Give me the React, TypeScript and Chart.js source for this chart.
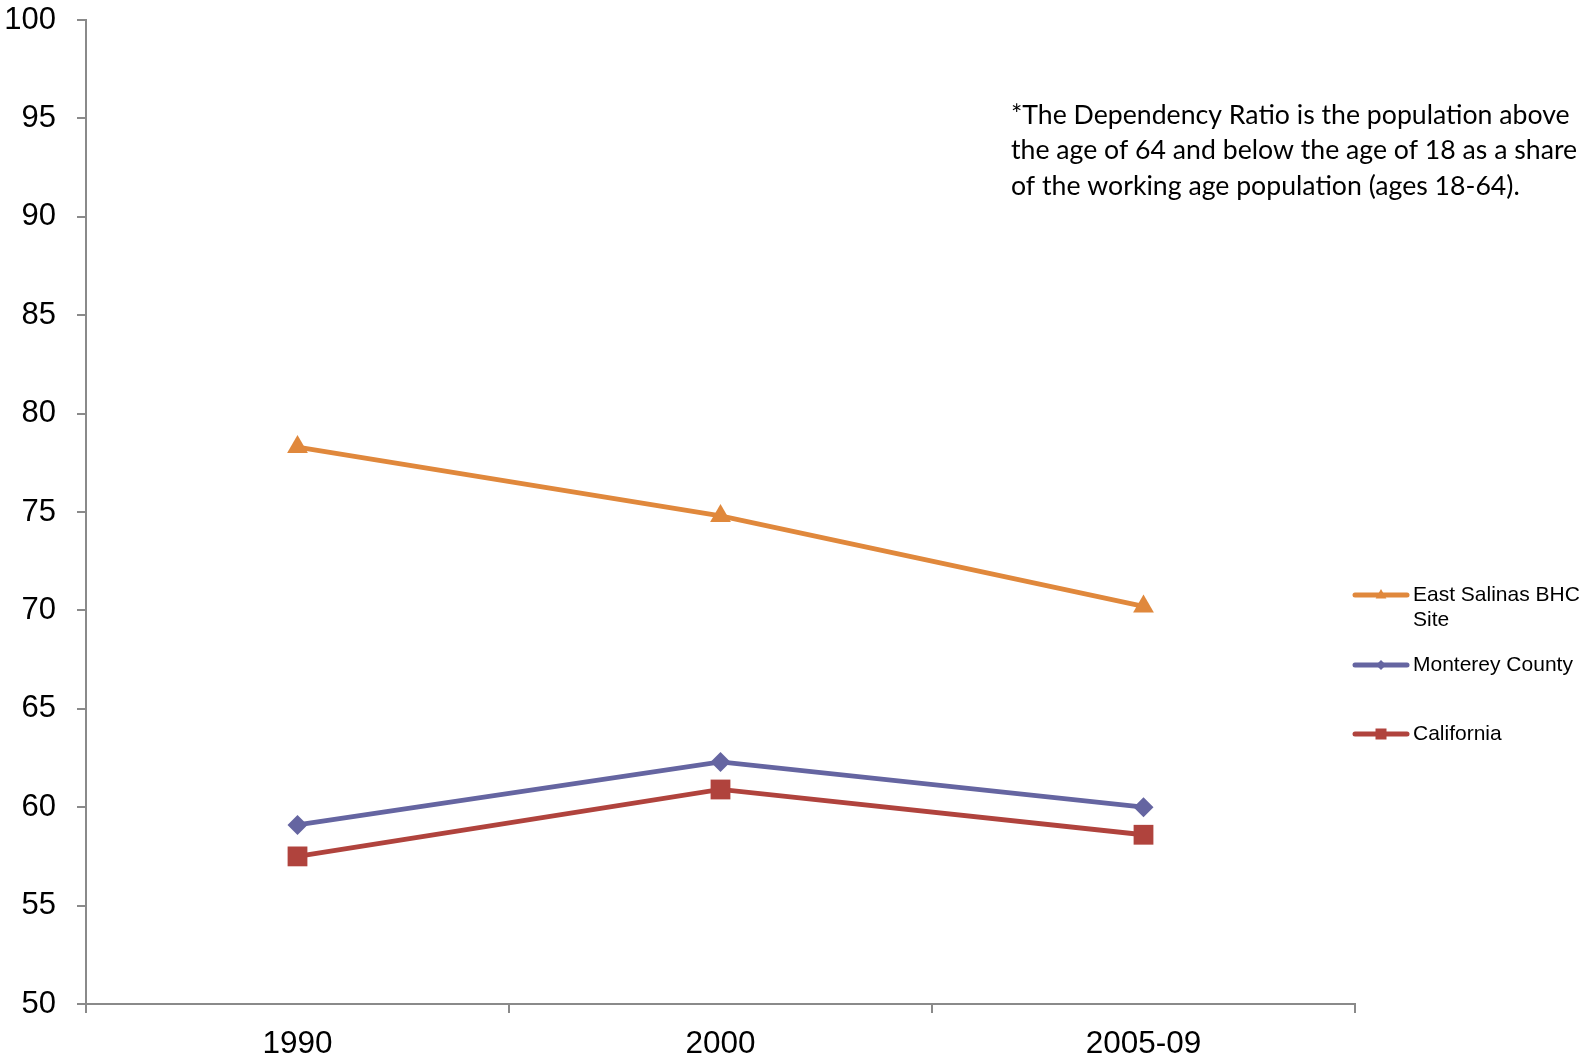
import React, { useEffect, useRef } from "react";
import { Chart, registerables } from "chart.js";

Chart.register(...registerables);

const categories = ["1990", "2000", "2005-09"];
const eastSalinas = [78.3, 74.8, 70.2];
const monterey = [59.1, 62.3, 60.0];
const california = [57.5, 60.9, 58.6];
const seriesNames = [["East Salinas BHC", "Site"], ["Monterey County"], ["California"]];
const noteLines = [
  "*The Dependency Ratio is the population above",
  "the age of 64 and below the age of 18 as a share",
  "of the working age population (ages 18-64).",
];
const yMin = 50;
const yMax = 100;
const yStep = 5;

const ORANGE = "#E0883C";
const PURPLE = "#6565A1";
const RED = "#B0433D";
const AXIS = "#8A8A8A";

function drawMarker(ctx: CanvasRenderingContext2D, style: string, x: number, y: number, r: number, color: string) {
  ctx.save();
  ctx.fillStyle = color;
  ctx.beginPath();
  if (style === "triangle") {
    ctx.moveTo(x, y - r);
    ctx.lineTo(x + r * 0.9, y + r * 0.6);
    ctx.lineTo(x - r * 0.9, y + r * 0.6);
    ctx.closePath();
  } else if (style === "rectRot") {
    ctx.moveTo(x, y - r);
    ctx.lineTo(x + r, y);
    ctx.lineTo(x, y + r);
    ctx.lineTo(x - r, y);
    ctx.closePath();
  } else {
    ctx.rect(x - r, y - r, 2 * r, 2 * r);
  }
  ctx.fill();
  ctx.restore();
}

const overlayPlugin = {
  id: "overlay",
  afterDraw(chart: any) {
    const ctx: CanvasRenderingContext2D = chart.ctx;
    // Legend
    const legendRows = [
      { y: 595, color: ORANGE, style: "triangle", r: 6, lines: seriesNames[0] },
      { y: 665, color: PURPLE, style: "rectRot", r: 5, lines: seriesNames[1] },
      { y: 734, color: RED, style: "rect", r: 5.5, lines: seriesNames[2] },
    ];
    ctx.save();
    for (const row of legendRows) {
      ctx.strokeStyle = row.color;
      ctx.lineWidth = 5;
      ctx.lineCap = "round";
      ctx.beginPath();
      ctx.moveTo(1355, row.y);
      ctx.lineTo(1407, row.y);
      ctx.stroke();
      drawMarker(ctx, row.style, 1381, row.y, row.r, row.color);
      ctx.fillStyle = "#000";
      ctx.font = "21px 'Liberation Sans', Arial, sans-serif";
      ctx.textAlign = "left";
      ctx.textBaseline = "middle";
      row.lines.forEach((t: string, i: number) => {
        ctx.fillText(t, 1413, row.y + i * 25);
      });
    }
    // Note
    let size = 26;
    ctx.font = `${size}px Lato, 'Open Sans', sans-serif`;
    const w2 = ctx.measureText(noteLines[1]).width;
    const w3 = ctx.measureText(noteLines[2]).width;
    size = size * ((575 / w2 + 517 / w3) / 2) * 0.985;
    ctx.font = `${size}px Lato, 'Open Sans', sans-serif`;
    ctx.fillStyle = "#000";
    ctx.textAlign = "left";
    ctx.textBaseline = "middle";
    noteLines.forEach((t, i) => {
      ctx.fillText(t, 1011, 115 + i * 35.5);
    });
    ctx.restore();
  },
};

export default function App() {
  const ref = useRef<HTMLCanvasElement | null>(null);
  useEffect(() => {
    if (!ref.current) return;
    const mk = (label: string, data: number[], color: string, style: string, r: number) => ({
      label,
      data,
      borderColor: color,
      backgroundColor: color,
      borderWidth: 4.8,
      pointStyle: style,
      pointRadius: r,
      pointHoverRadius: r,
      pointBorderWidth: 0,
      pointBackgroundColor: color,
      tension: 0,
    });
    const chart = new Chart(ref.current, {
      type: "line",
      data: {
        labels: categories,
        datasets: [
          mk("East Salinas BHC Site", eastSalinas, ORANGE, "triangle", 12),
          mk("Monterey County", monterey, PURPLE, "rectRot", 10),
          mk("California", california, RED, "rect", 14),
        ],
      },
      plugins: [overlayPlugin],
      options: {
        animation: false,
        responsive: false,
        maintainAspectRatio: false,
        layout: { padding: { top: 20, right: 234, bottom: 0, left: 0 } },
        plugins: { legend: { display: false }, tooltip: { enabled: false } },
        scales: {
          x: {
            type: "category",
            offset: true,
            grid: {
              offset: true,
              drawOnChartArea: false,
              drawTicks: true,
              tickLength: 9,
              color: AXIS,
              lineWidth: 2,
            },
            border: { color: AXIS, width: 2 },
            ticks: {
              color: "#000",
              font: { family: "'Liberation Sans', Arial, sans-serif", size: 31.5 },
              padding: 12,
              maxRotation: 0,
            },
            afterFit(scale: any) {
              scale.height = 58;
              scale.paddingLeft = 0;
              scale.paddingRight = 0;
            },
          },
          y: {
            min: yMin,
            max: yMax,
            grid: {
              drawOnChartArea: false,
              drawTicks: true,
              tickLength: 9,
              color: AXIS,
              lineWidth: 2,
            },
            border: { color: AXIS, width: 2 },
            ticks: {
              stepSize: yStep,
              color: "#000",
              font: { family: "'Liberation Sans', Arial, sans-serif", size: 31 },
              padding: 21,
            },
            afterFit(scale: any) {
              scale.width = 86;
              scale.paddingTop = 0;
              scale.paddingBottom = 0;
            },
          },
        },
      },
    } as any);
    return () => chart.destroy();
  }, []);
  return (
    <div style={{ position: "absolute", left: 0, top: 0, width: 1589, height: 1062, background: "#fff" }}>
      <canvas ref={ref} width={1589} height={1062} style={{ display: "block", width: 1589, height: 1062 }} />
    </div>
  );
}
